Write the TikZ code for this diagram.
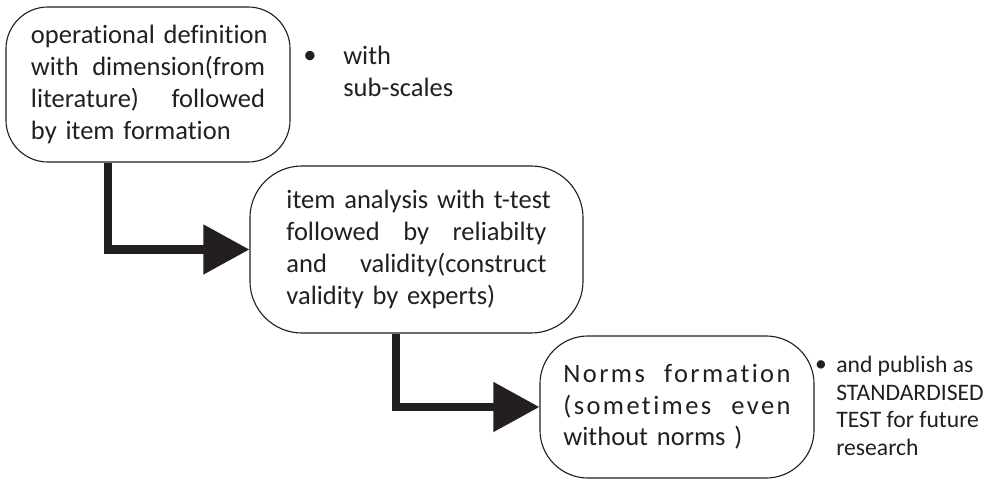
\documentclass[tikz,border=0pt]{standalone}
\usepackage{fontspec}
\setmainfont{Carlito}[Ligatures=NoCommon]
\newfontfamily\spacedfont[LetterSpace=9,Ligatures=NoCommon]{Carlito}
\usetikzlibrary{arrows.meta}
\definecolor{inkdark}{HTML}{231F20}

\tikzset{
  procbox/.style={draw=inkdark, line width=0.8pt, rectangle, align=left,
    inner sep=0pt, text=inkdark, font=\fontsize{18.85}{22.76}\selectfont},
  flowarrow/.style={draw=inkdark, line width=0.2cm,
    -{Triangle[length=1.15cm,width=1.2cm]}},
  notetext/.style={text=inkdark, align=left, inner sep=0pt, anchor=north west},
  bulletmark/.style={text=inkdark, inner sep=0pt},
}

\begin{document}
\begin{tikzpicture}[x=0.025cm, y=-0.025cm]
    \useasboundingbox (0,0) rectangle (988,479);

    % the three steps
    \node[procbox, minimum width=7.1cm, minimum height=3.875cm,
          text width=5.85cm, rounded corners=1.05cm] (defbox) at (148,84.5)
        {\mbox{operational definition}\\
         with\hfill dimension(from\\
         literature)\hfill followed\\
         \mbox{by item formation}};
    \node[procbox, minimum width=8.325cm, minimum height=4.175cm,
          text width=6.5cm, rounded corners=1.3cm] (itembox) at (416.5,249.5)
        {\mbox{item analysis with t-test}\\
         followed\hfill by\hfill reliabilty\\
         and\hfill validity(construct\\
         \mbox{validity by experts)}};
    \node[procbox, minimum width=6.85cm, minimum height=3.55cm,
          text width=5.675cm, rounded corners=1.2cm,
          font=\fontsize{18.85}{22.3}\selectfont] (normbox) at (677,407)
        {{\spacedfont Norms\hfill formation}\\
         {\spacedfont (sometimes\hfill even}\\
         \mbox{without norms )}};

    % side notes
    \node[bulletmark, font=\fontsize{18.85}{22.76}\selectfont] (subdot) at (310,57) {\textbullet};
    \node[notetext, font=\fontsize{18.85}{22.76}\selectfont] (subnote) at (343,46.2)
        {with\\ sub-scales};
    \node[bulletmark, font=\fontsize{16.8}{19.56}\selectfont] (pubdot) at (821,366) {\textbullet};
    \node[notetext, font=\fontsize{16.8}{19.56}\selectfont] (pubnote) at (836,356)
        {and publish as\\ STANDARDISED\\ TEST for future\\ research};

    % thick elbow arrows
    \draw[flowarrow] ([xshift=-1cm]defbox.south) |- (itembox.west);
    \draw[flowarrow] ([xshift=-0.5cm]itembox.south) |- (normbox.west);
\end{tikzpicture}
\end{document}
